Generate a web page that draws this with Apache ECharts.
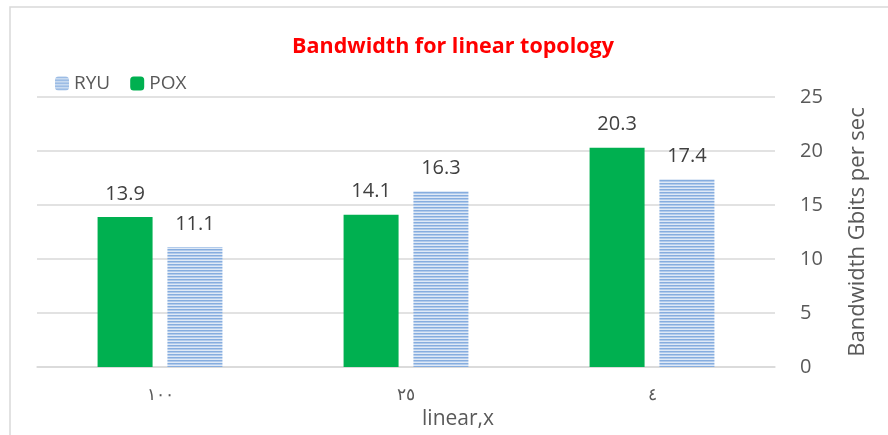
<!DOCTYPE html>
<html>
<head>
<meta charset="utf-8">
<script src="https://cdn.jsdelivr.net/npm/echarts@6/dist/echarts.min.js"></script>
<style>
  html, body { margin: 0; padding: 0; background: #fff; }
  #chart { width: 888px; height: 435px; }
</style>
</head>
<body>
<div id="chart"></div>
<script>
// data
var categories = ['١٠٠', '٢٥', '٤'];
var poxValues = [13.9, 14.1, 20.3];
var ryuValues = [11.1, 16.3, 17.4];
var yTicks = { min: 0, max: 25, interval: 5 };

var font = '"Open Sans", "Noto Sans", sans-serif';

// horizontal blue stripes for RYU
function stripes() {
  var c = document.createElement('canvas');
  c.width = 4; c.height = 3;
  var ctx = c.getContext('2d');
  ctx.fillStyle = '#dfe9f6';
  ctx.fillRect(0, 0, 4, 3);
  ctx.fillStyle = '#86addf';
  ctx.fillRect(0, 0, 4, 1.5);
  return { image: c, repeat: 'repeat' };
}
var ryuFill = stripes();

var chart = echarts.init(document.getElementById('chart'));
chart.setOption({
  animation: false,
  title: {
    text: 'Bandwidth for linear topology',
    left: 448, top: 31, textAlign: 'center',
    textStyle: { color: '#ff0000', fontSize: 21.5, fontWeight: 'bold', fontFamily: font }
  },
  legend: {
    left: 50, top: 69,
    itemWidth: 14, itemHeight: 14, itemGap: 20,
    data: ['RYU', 'POX'],
    textStyle: { color: '#595959', fontSize: 19, fontFamily: font }
  },
  grid: { left: 37, right: 113, top: 97, bottom: 68 },
  xAxis: {
    type: 'category',
    data: categories,
    name: 'linear,x',
    nameLocation: 'middle',
    nameGap: 40,
    nameTextStyle: { color: '#595959', fontSize: 21, fontFamily: font, padding: [0, 0, 0, 104] },
    axisLine: { lineStyle: { color: '#d9d9d9', width: 1.5 } },
    axisTick: { show: false },
    axisLabel: { color: '#595959', fontSize: 17, margin: 20, fontFamily: font }
  },
  yAxis: {
    type: 'value',
    position: 'right',
    min: yTicks.min, max: yTicks.max, interval: yTicks.interval,
    name: 'Bandwidth Gbits per sec',
    nameLocation: 'middle',
    nameRotate: 90,
    nameGap: 72,
    nameTextStyle: { color: '#595959', fontSize: 22, fontFamily: font },
    axisLine: { show: false },
    axisTick: { show: false },
    axisLabel: { color: '#595959', fontSize: 20, align: 'left', margin: 25, fontFamily: font },
    splitLine: { lineStyle: { color: '#d9d9d9', width: 1.5 } }
  },
  series: [
    {
      name: 'POX', type: 'bar', data: poxValues,
      barWidth: 55, barGap: '27%',
      itemStyle: { color: '#00b050' },
      label: { show: true, position: 'top', distance: 13, color: '#404040', fontSize: 20, fontFamily: font }
    },
    {
      name: 'RYU', type: 'bar', data: ryuValues,
      barWidth: 55,
      itemStyle: { color: ryuFill },
      label: { show: true, position: 'top', distance: 13, color: '#404040', fontSize: 20, fontFamily: font }
    }
  ],
  graphic: [{
    type: 'rect', silent: true,
    shape: { x: 10, y: 7, width: 900, height: 450 },
    style: { fill: 'none', stroke: '#d9d9d9', lineWidth: 1.5 }
  }]
});
</script>
</body>
</html>
